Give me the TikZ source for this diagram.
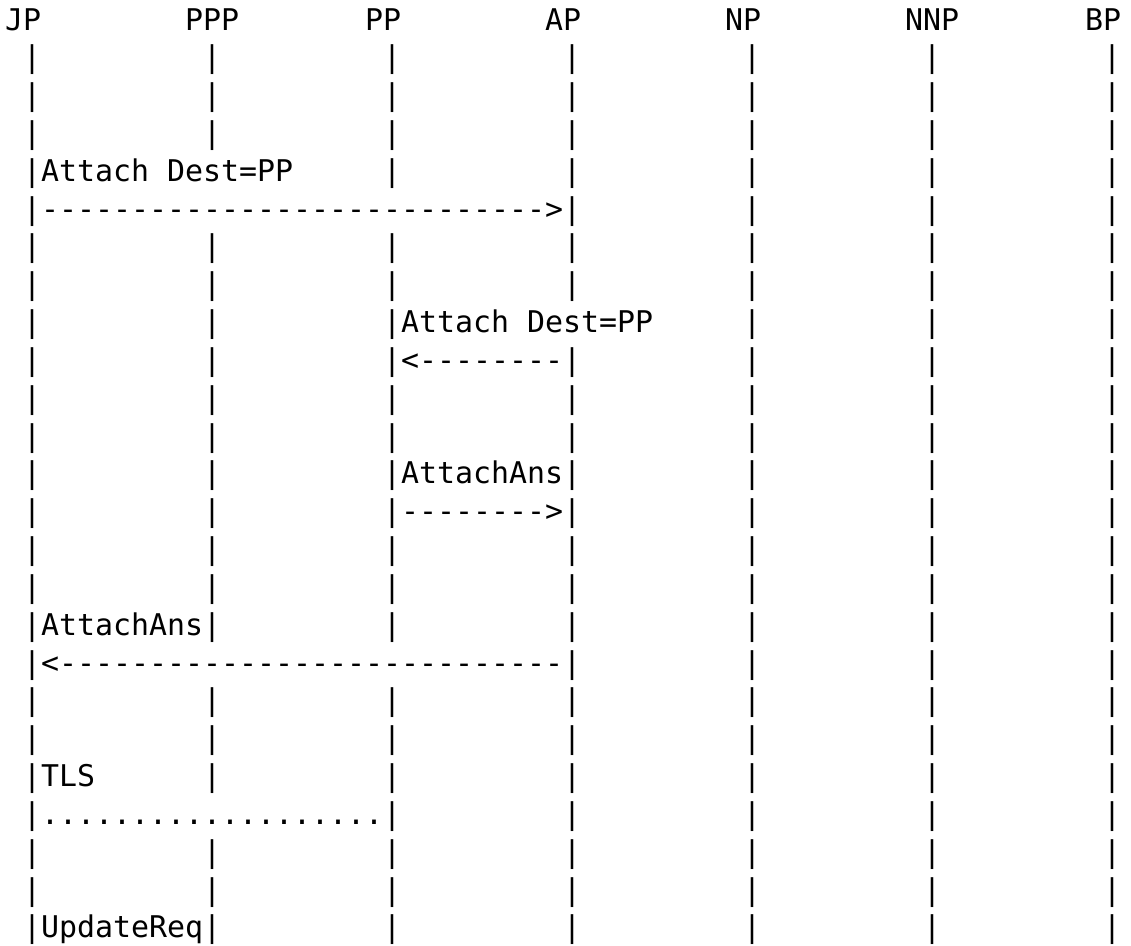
\documentclass[tikz,border=0pt]{standalone}
\usepackage{fontspec}
\setmonofont{DejaVu Sans Mono}

\begin{document}
\begin{tikzpicture}[x=18pt,y=-37.83pt,
    ascii/.style={anchor=base west,inner sep=0pt,font=\ttfamily\fontsize{29.9pt}{36pt}\selectfont}]
   \useasboundingbox (0pt,0pt) rectangle (1131pt,-945pt);
   \begin{scope}[shift={(5pt,-30pt)}]
    % column heads
    \node[ascii] (jp)  at (0,0)  {JP};
    \node[ascii] (ppp) at (10,0) {PPP};
    \node[ascii] (pp)  at (20,0) {PP};
    \node[ascii] (ap)  at (30,0) {AP};
    \node[ascii] (np)  at (40,0) {NP};
    \node[ascii] (nnp) at (50,0) {NNP};
    \node[ascii] (bp)  at (60,0) {BP};
    % life lines, row by row
    \foreach \r/\cs in {1/{1,11,21,31,41,51,61},2/{1,11,21,31,41,51,61},
        3/{1,11,21,31,41,51,61},4/{1,21,31,41,51,61},5/{1,31,41,51,61},
        6/{1,11,21,31,41,51,61},7/{1,11,21,31,41,51,61},8/{1,11,21,41,51,61},
        9/{1,11,21,31,41,51,61},10/{1,11,21,31,41,51,61},11/{1,11,21,31,41,51,61},
        12/{1,11,21,31,41,51,61},13/{1,11,21,31,41,51,61},14/{1,11,21,31,41,51,61},
        15/{1,11,21,31,41,51,61},16/{1,11,21,31,41,51,61},17/{1,31,41,51,61},
        18/{1,11,21,31,41,51,61},19/{1,11,21,31,41,51,61},20/{1,11,21,31,41,51,61},
        21/{1,21,31,41,51,61},22/{1,11,21,31,41,51,61},23/{1,11,21,31,41,51,61},
        24/{1,11,21,31,41,51,61}}
      \foreach \c in \cs
        \node[ascii] (l\r-\c) at (\c,\r) {|};
    % messages
    \node[ascii] (attreq)    at (2,4)  {Attach Dest=PP};
    \node[ascii] (attreqarr) at (2,5)  {{----------}{----------}{--------}>};
    \node[ascii] (fwdreq)    at (22,8) {Attach Dest=PP};
    \node[ascii] (fwdarr)    at (22,9) {<{--------}};
    \node[ascii] (fwdans)    at (22,12) {AttachAns};
    \node[ascii] (fwdansarr) at (22,13) {{--------}>};
    \node[ascii] (attans)    at (2,16) {AttachAns};
    \node[ascii] (attansarr) at (2,17) {<{----------}{----------}{--------}};
    \node[ascii] (tls)       at (2,20) {TLS};
    \node[ascii] (tlsdots)   at (2,21) {...................};
    \node[ascii] (updreq)    at (2,24) {UpdateReq};
   \end{scope}
  \end{tikzpicture}
\end{document}
